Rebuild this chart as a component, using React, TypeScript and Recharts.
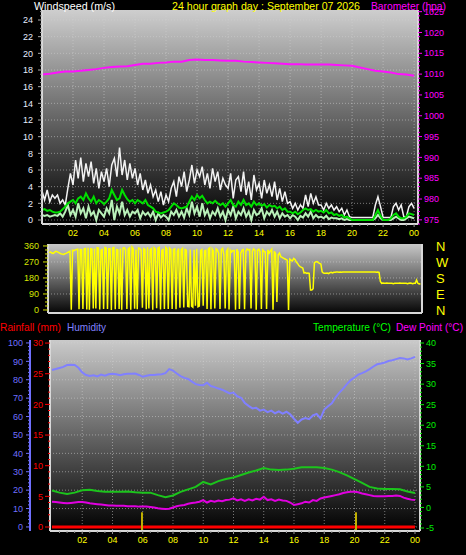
import React from 'react'
import { LineChart, Line, XAxis, YAxis, CartesianGrid } from 'recharts'

const FONT = '"Liberation Sans", Arial, Helvetica, sans-serif'

// wind, one reading every 10 minutes (m/s)
const windGust = [
  3.5, 2.4, 3.6, 2.2, 3.0, 2.6,
  3.0, 2.0, 2.4, 1.8, 3.8, 5.6,
  4.2, 7.2, 5.0, 7.5, 4.6, 6.8,
  5.2, 7.0, 4.4, 6.2, 3.8, 5.8,
  4.6, 6.2, 4.0, 6.6, 7.4, 5.2,
  8.7, 5.4, 7.2, 4.8, 6.8, 5.0,
  6.2, 4.2, 5.6, 3.6, 4.8, 3.2,
  4.2, 2.8, 3.6, 2.2, 3.4, 1.8,
  3.0, 2.2, 3.8, 4.6, 2.8, 5.2,
  4.0, 5.8, 3.4, 4.8, 6.6, 4.4,
  6.0, 5.2, 6.4, 4.2, 5.6, 3.8,
  6.2, 4.6, 5.8, 3.6, 5.0, 4.2,
  3.8, 5.6, 2.6, 4.8, 5.2, 3.4,
  5.8, 3.0, 4.6, 2.4, 5.4, 3.6,
  4.4, 2.6, 4.8, 3.2, 4.2, 2.8,
  4.6, 2.4, 3.8, 2.2, 3.4, 2.0,
  2.2, 1.4, 2.0, 1.2, 1.8, 1.4,
  3.0, 1.6, 3.2, 2.0, 2.8, 1.8,
  1.8, 1.2, 2.0, 1.4, 1.8, 1.2,
  1.6, 1.0, 1.4, 0.6, 1.2, 0.4,
  0.3, 0.3, 0.3, 0.3, 0.3, 0.3,
  0.3, 0.3, 0.3, 1.8, 2.8, 1.6,
  0.3, 0.3, 0.3, 0.3, 1.6, 2.0,
  1.2, 1.8, 0.4, 0.4, 1.6, 2.0,
  1.4,
]
const windAvg = [
  1.2, 1.3, 1.1, 1.2, 1.0, 0.9,
  0.9, 1.0, 1.3, 1.6, 2.0, 2.2,
  2.4, 2.0, 2.6, 2.8, 2.4, 3.2,
  2.6, 2.2, 2.8, 2.0, 2.4, 2.2,
  1.9, 2.2, 2.6, 3.6, 3.0, 2.4,
  2.6, 3.6, 3.0, 2.5, 2.2, 2.4,
  2.0, 2.4, 2.2, 2.0, 2.4, 1.8,
  1.6, 1.4, 1.0, 0.9, 0.8, 0.9,
  1.0, 1.2, 1.6, 2.0, 1.8, 1.5,
  1.4, 1.5, 1.6, 2.2, 2.8, 2.4,
  3.0, 2.6, 2.9, 2.4, 2.0, 2.2,
  2.0, 2.3, 2.0, 1.8, 2.0, 1.6,
  2.0, 2.4, 1.8, 1.6, 2.2, 1.8,
  2.4, 1.8, 2.0, 1.6, 2.2, 1.8,
  2.0, 1.7, 1.9, 1.5, 1.8, 1.6,
  1.7, 1.4, 1.6, 1.2, 1.4, 1.0,
  1.0, 0.8, 1.0, 0.7, 0.9, 1.2,
  1.4, 1.2, 1.3, 1.0, 1.2, 1.0,
  1.1, 0.9, 1.2, 0.8, 0.9, 0.6,
  0.7, 0.5, 0.6, 0.3, 0.4, 0.2,
  0, 0, 0, 0, 0, 0,
  0, 0, 0, 0.6, 1.2, 0.5,
  0, 0, 0, 0.2, 0.6, 0.8,
  0.4, 0.2, 0.2, 0.4, 0.8, 0.7,
  0.6,
]
const windSpeed = [
  0.6, 0.5, 0.6, 0.4, 0.5, 0.6,
  0.5, 0.8, 0.4, 1.0, 1.8, 0.6,
  1.2, 0.4, 2.0, 0.8, 1.4, 0.2,
  1.6, 0.6, 1.0, 0.0, 1.2, 0.8,
  0.4, 1.4, 0.8, 2.4, 0.0, 1.6,
  0.8, 2.2, 0.6, 1.2, 0.4, 1.0,
  0.8, 1.2, 0.2, 1.0, 0.6, 0.9,
  0.4, 1.0, 0.0, 0.8, 0.3, 0.6,
  0.4, 0.0, 1.0, 0.6, 1.2, 0.4,
  1.0, 0.3, 1.4, 0.6, 2.2, 0.8,
  1.6, 0.4, 2.0, 0.6, 1.2, 0.2,
  1.0, 0.6, 1.4, 0.4, 1.0, 0.0,
  1.2, 0.6, 1.6, 0.2, 1.0, 0.6,
  1.4, 0.4, 1.0, 0.0, 1.2, 0.6,
  0.8, 1.4, 0.2, 1.0, 0.6, 1.2,
  0.4, 1.0, 0.2, 0.8, 0.4, 0.6,
  0.2, 0.6, 0.4, 0.0, 0.5, 0.3,
  0.8, 0.4, 1.0, 0.2, 0.6, 0.3,
  0.4, 0.2, 0.5, 0.1, 0.3, 0.2,
  0.2, 0.1, 0.2, 0.0, 0.1, 0.0,
  0, 0, 0, 0, 0, 0,
  0, 0, 0, 0.2, 0.6, 0.2,
  0, 0, 0, 0, 0.2, 0.4,
  0.2, 0, 0, 0.2, 0.4, 0.3,
  0.2,
]
// barometer every 30 minutes (hpa)
const barometer = [
  1009.9, 1010.1, 1010.4, 1010.6, 1010.6, 1010.8, 1011.0, 1011.2,
  1011.5, 1011.7, 1011.8, 1011.9, 1012.2, 1012.5, 1012.5, 1012.7,
  1012.8, 1013.0, 1013.0, 1013.4, 1013.5, 1013.4, 1013.4, 1013.3,
  1013.2, 1013.2, 1013.0, 1012.9, 1012.8, 1012.7, 1012.6, 1012.5,
  1012.4, 1012.4, 1012.3, 1012.3, 1012.3, 1012.3, 1012.2, 1012.1,
  1012.0, 1011.6, 1011.2, 1010.8, 1010.6, 1010.4, 1010.0, 1009.9,
  1009.6,
]
// wind direction every 5 minutes (degrees)
const windDir = [
  322, 324, 326, 320, 318, 324, 330, 328, 324, 320, 316, 314,
  312, 316, 318, 322, 326, 330, 2, 336, 334, 338, 340, 342,
  4, 340, 338, 6, 344, 346, 3, 350, 2, 344, 342, 8,
  346, 8, 350, 348, 3, 336, 340, 5, 352, 348, 6, 344,
  344, 0, 350, 352, 4, 340, 338, 5, 346, 2, 348, 350,
  338, 6, 344, 350, 2, 354, 344, 7, 340, 4, 348, 346,
  336, 12, 345, 340, 4, 352, 8, 340, 346, 2, 350, 342,
  10, 348, 352, 3, 335, 340, 6, 352, 344, 5, 348, 340,
  6, 340, 344, 4, 330, 346, 12, 338, 346, 14, 340, 336,
  20, 18, 340, 22, 16, 338, 24, 344, 18, 22, 334, 340,
  24, 332, 336, 6, 344, 350, 4, 342, 330, 8, 344, 338,
  320, 5, 338, 346, 312, 8, 330, 342, 3, 336, 326, 334,
  334, 2, 342, 326, 6, 318, 336, 340, 4, 330, 344, 338,
  340, 8, 330, 344, 336, 2, 336, 342, 328, 6, 338, 330,
  326, 6, 338, 320, 332, 342, 2, 330, 316, 45, 310, 320,
  300, 296, 292, 288, 284, 280, 0, 286, 280, 276, 290, 284,
  270, 262, 250, 244, 240, 236, 208, 210, 206, 208, 206, 112,
  112, 120, 266, 270, 272, 266, 262, 258, 214, 208, 206, 206,
  208, 204, 210, 212, 208, 212, 212, 214, 214, 212, 214, 212,
  214, 214, 214, 214, 214, 214, 214, 214, 214, 214, 214, 214,
  214, 214, 214, 214, 214, 214, 214, 214, 214, 214, 214, 214,
  214, 214, 212, 214, 212, 160, 150, 152, 150, 150, 152, 150,
  150, 150, 150, 148, 150, 150, 150, 150, 152, 150, 150, 150,
  150, 150, 148, 150, 152, 150, 148, 150, 150, 168, 150, 146,
  148,
]
// humidity every 15 minutes (%)
const humidity = [
  85.3, 85.8, 86.4, 87.0, 88.0, 88.2, 88.0, 86.5,
  84.0, 82.6, 82.0, 82.4, 81.8, 82.8, 82.2, 83.0,
  83.2, 83.0, 82.4, 83.0, 83.2, 83.2, 83.4, 82.6,
  81.6, 82.2, 82.6, 82.6, 82.8, 83.0, 83.6, 85.8,
  85.0, 83.4, 82.0, 81.0, 80.4, 79.0, 77.6, 77.2,
  77.0, 78.4, 76.6, 76.0, 75.2, 74.6, 73.6, 72.6,
  73.0, 71.0, 70.2, 67.4, 65.8, 64.4, 64.8, 63.2,
  63.8, 62.4, 63.2, 61.8, 62.8, 61.6, 62.6, 61.2,
  58.8, 56.6, 58.4, 59.2, 58.6, 60.6, 61.4, 59.0,
  63.8, 65.6, 67.2, 70.4, 73.0, 75.2, 77.6, 79.8,
  81.2, 82.8, 83.6, 84.6, 85.8, 87.2, 88.4, 88.8,
  89.4, 90.2, 90.6, 91.2, 91.8, 91.6, 91.0, 91.6,
  92.4,
]
// dew point every 15 minutes (C)
const dewPoint = [
  1.4, 1.3, 1.2, 1.1, 1.0, 1.1, 1.2, 1.3,
  1.3, 1.2, 1.0, 0.9, 0.8, 0.7, 0.6, 0.5,
  0.5, 0.4, 0.4, 0.4, 0.3, 0.3, 0.3, 0.2,
  0.2, 0.2, 0.1, 0.0, -0.2, -0.3, -0.4, -0.3,
  0.0, 0.3, 0.5, 0.6, 0.9, 1.1, 1.2, 1.4,
  1.8, 1.2, 1.6, 1.4, 1.7, 1.5, 1.8, 1.9,
  2.2, 1.7, 2.0, 1.6, 2.0, 1.7, 2.1, 1.9,
  2.6, 1.8, 2.0, 1.6, 1.9, 1.7, 1.6, 1.2,
  0.6, 0.8, 1.0, 1.4, 1.2, 1.8, 1.6, 2.2,
  2.4, 2.6, 2.8, 3.0, 3.2, 3.5, 3.7, 3.8,
  3.8, 3.7, 3.4, 3.2, 3.0, 2.8, 2.7, 2.7,
  2.7, 2.8, 2.8, 2.9, 2.8, 2.4, 2.1, 1.9,
  1.8,
]
// temperature every 30 minutes (C)
const temperature = [
  4.1, 3.6, 3.3, 3.6, 4.2, 4.3, 4.0, 3.8,
  3.8, 3.8, 3.9, 3.7, 3.6, 3.6, 3.0, 2.5,
  2.9, 3.8, 4.4, 5.0, 6.2, 5.6, 6.4, 6.9,
  7.3, 7.9, 8.5, 9.0, 9.6, 9.2, 9.1, 9.2,
  9.4, 9.8, 9.8, 9.8, 9.6, 9.2, 8.6, 7.8,
  6.9, 6.0, 5.0, 4.6, 4.5, 4.5, 4.4, 3.9,
  3.5,
]
// rainfall hourly (mm)
const rainfall = [0, 0, 0, 0, 0, 0, 0, 0, 0, 0, 0, 0, 0, 0, 0, 0, 0, 0, 0, 0, 0, 0, 0, 0, 0]
const rainMarkHours = [5.95, 20.1]
const rainMarkTop = [2.4, 2.4]

const hourLabels = [2, 4, 6, 8, 10, 12, 14, 16, 18, 20, 22, 24]
const compass: Record<number, string> = { 0: 'N', 90: 'E', 180: 'S', 270: 'W', 360: 'N' }

const steps = (from: number, to: number, step: number) => {
  const out: number[] = []
  const n = Math.round((to - from) / step)
  for (let i = 0; i <= n; i++) out.push(Math.round((from + i * step) * 1000) / 1000)
  return out
}

const WIND_DOMAIN = [-0.48, 25.2]
const BARO_DOMAIN = [974, 1025.4]
const DIR_DOMAIN = [-17, 371]
const HUM_DOMAIN = [-2.2, 101.6]
const RAIN_DOMAIN = [-0.65, 30.5]
const TEMP_DOMAIN = [-5.73, 40.73]

const windRows = windGust.map((g, i) => ({ h: i / 6, gust: g, avg: windAvg[i], speed: windSpeed[i] }))
const baroRows = barometer.map((p, i) => ({ h: i / 2, p }))
const dirRows = windDir.map((d, i) => ({ h: i / 12, d }))
const humRows = humidity.map((v, i) => ({ h: i / 4, v }))
const dewRows = dewPoint.map((v, i) => ({ h: i / 4, v }))
const tempRows = temperature.map((v, i) => ({ h: i / 2, v }))
const rainRows = rainfall.map((v, i) => ({ h: i, v }))
const rainMarks = rainMarkHours.map((h, i) => [{ h, v: RAIN_DOMAIN[0] }, { h, v: rainMarkTop[i] }])

type TickStyle = {
  side: 'left' | 'right' | 'bottom'
  major: number
  color: string
  tickColor?: string
  len?: number
  minorLen?: number
  gap?: number
  size?: number
  fmt?: (v: number) => string
}

// draws major ticks with a label and minor ticks as short dashes
function axisTick(s: TickStyle) {
  return (props: any) => {
    const { x, y, payload } = props
    const v = Number(payload.value)
    const r = v / s.major
    const isMajor = Math.abs(r - Math.round(r)) < 1e-6
    const len = isMajor ? s.len ?? 4 : s.minorLen ?? 2
    const gap = s.gap ?? 3
    const label = isMajor ? (s.fmt ? s.fmt(v) : String(v)) : ''
    const tc = s.tickColor ?? s.color
    const txt = { fill: s.color, fontSize: s.size ?? 9, fontFamily: FONT }
    if (s.side === 'bottom') {
      return (
        <g>
          {len > 0 && <line x1={x} x2={x} y1={y} y2={y + len} stroke={tc} />}
          {label && (
            <text x={x} y={y + len + gap} dy="0.71em" textAnchor="middle" {...txt}>
              {label}
            </text>
          )}
        </g>
      )
    }
    const dir = s.side === 'left' ? -1 : 1
    return (
      <g>
        {len > 0 && <line x1={x} x2={x + dir * len} y1={y} y2={y} stroke={tc} />}
        {label && (
          <text x={x + dir * (len + gap)} y={y} dy="0.355em" textAnchor={s.side === 'left' ? 'end' : 'start'} {...txt}>
            {label}
          </text>
        )}
      </g>
    )
  }
}

const hourFmt = (v: number) => String(v % 24).padStart(2, '0')
const border = { stroke: '#d8d8d8', strokeWidth: 2 }
const noTick = { tickSize: 0, tickMargin: 0, tickLine: false, interval: 0 as const, allowDataOverflow: true }
const grid = { stroke: '#d0d0d0', strokeOpacity: 0.55, strokeDasharray: '1 2' }

function WindPanel() {
  return (
    <LineChart width={466} height={242} data={windRows} margin={{ top: 10, right: 0, bottom: 0, left: 0 }}>
      <defs>
        <linearGradient id="bgWind" x1="0" y1="0" x2="0" y2="1">
          <stop offset="0" stopColor="#cecece" />
          <stop offset="1" stopColor="#000000" />
        </linearGradient>
      </defs>
      <CartesianGrid fill="url(#bgWind)" fillOpacity={1} {...grid} horizontalValues={steps(0, 24, 2)} verticalValues={hourLabels} />
      <XAxis
        dataKey="h"
        type="number"
        domain={[0, 24.25]}
        ticks={steps(0.5, 24, 0.5)}
        height={18}
        axisLine={border}
        tick={axisTick({ side: 'bottom', major: 2, color: '#ffff00', tickColor: '#9a9a9a', len: 3, minorLen: 2, gap: 3, fmt: hourFmt })}
        {...noTick}
      />
      <YAxis
        type="number"
        domain={WIND_DOMAIN}
        ticks={steps(0, 25, 0.5)}
        width={42}
        axisLine={border}
        tick={axisTick({ side: 'left', major: 2, color: '#e6ecff', tickColor: '#a8a8a8', len: 4, minorLen: 2, gap: 5 })}
        {...noTick}
      />
      <YAxis
        yAxisId="b"
        orientation="right"
        type="number"
        domain={BARO_DOMAIN}
        ticks={steps(974, 1025, 1)}
        width={48}
        axisLine={border}
        tick={axisTick({ side: 'right', major: 5, color: '#ff00ff', len: 4, minorLen: 2, gap: 2 })}
        {...noTick}
      />
      <Line dataKey="gust" stroke="#f2f2f2" strokeWidth={1.5} dot={false} isAnimationActive={false} />
      <Line dataKey="speed" stroke="#b8f0b8" strokeWidth={2} dot={false} isAnimationActive={false} />
      <Line dataKey="avg" stroke="#00e000" strokeWidth={2} dot={false} isAnimationActive={false} />
      <Line yAxisId="b" data={baroRows} dataKey="p" stroke="#ff10ff" strokeWidth={2} dot={false} isAnimationActive={false} />
    </LineChart>
  )
}

function DirectionPanel() {
  return (
    <LineChart width={466} height={81} data={dirRows} margin={{ top: 4, right: 0, bottom: 6, left: 0 }}>
      <defs>
        <linearGradient id="bgDir" x1="0" y1="0" x2="0" y2="1">
          <stop offset="0" stopColor="#c8c8c8" />
          <stop offset="1" stopColor="#060606" />
        </linearGradient>
      </defs>
      <CartesianGrid fill="url(#bgDir)" fillOpacity={1} {...grid} vertical={false} horizontalValues={[90, 180, 270]} />
      <XAxis dataKey="h" type="number" domain={[0, 24.1]} height={2} tick={false} axisLine={border} {...noTick} />
      <YAxis
        type="number"
        domain={DIR_DOMAIN}
        ticks={steps(0, 360, 22.5)}
        width={48}
        axisLine={border}
        tick={axisTick({ side: 'left', major: 90, color: '#d6e400', len: 5, minorLen: 3, gap: 4 })}
        {...noTick}
      />
      <YAxis
        yAxisId="l"
        orientation="right"
        type="number"
        domain={DIR_DOMAIN}
        ticks={[0, 90, 180, 270, 360]}
        width={44}
        axisLine={border}
        tick={axisTick({ side: 'right', major: 90, color: '#ffff00', len: 0, gap: 14, size: 13, fmt: (v) => compass[v] })}
        {...noTick}
      />
      <Line dataKey="d" stroke="#ffff00" strokeWidth={1.5} dot={false} isAnimationActive={false} />
    </LineChart>
  )
}

function ClimatePanel() {
  return (
    <LineChart width={466} height={237} margin={{ top: 22, right: 0, bottom: 0, left: 0 }}>
      <defs>
        <linearGradient id="bgClimate" x1="0" y1="0" x2="0" y2="1">
          <stop offset="0" stopColor="#cacaca" />
          <stop offset="1" stopColor="#000000" />
        </linearGradient>
      </defs>
      <CartesianGrid yAxisId="h" fill="url(#bgClimate)" fillOpacity={1} {...grid} horizontalValues={steps(0, 100, 10)} verticalValues={hourLabels} />
      <XAxis
        dataKey="h"
        type="number"
        domain={[-0.13, 24.33]}
        ticks={steps(0.5, 24, 0.5)}
        height={24}
        axisLine={border}
        tick={axisTick({ side: 'bottom', major: 2, color: '#ffff00', tickColor: '#9a9a9a', len: 3, minorLen: 2, gap: 3, fmt: hourFmt })}
        {...noTick}
      />
      <YAxis
        type="number"
        domain={RAIN_DOMAIN}
        ticks={steps(0, 30, 1)}
        width={20}
        axisLine={border}
        tick={axisTick({ side: 'left', major: 5, color: '#ff0000', len: 5, minorLen: 2, gap: 2 })}
        {...noTick}
      />
      <YAxis
        yAxisId="h"
        type="number"
        domain={HUM_DOMAIN}
        ticks={steps(0, 100, 2)}
        width={30}
        axisLine={{ stroke: '#7070ff', strokeWidth: 2 }}
        tick={axisTick({ side: 'left', major: 10, color: '#7070ff', len: 4, minorLen: 2, gap: 3 })}
        {...noTick}
      />
      <YAxis
        yAxisId="t"
        orientation="right"
        type="number"
        domain={TEMP_DOMAIN}
        ticks={steps(-5, 40, 1)}
        width={46}
        axisLine={border}
        tick={axisTick({ side: 'right', major: 5, color: '#00ee00', len: 4, minorLen: 2, gap: 2 })}
        {...noTick}
      />
      <Line yAxisId="h" data={humRows} dataKey="v" stroke="#8080ff" strokeWidth={2} dot={false} isAnimationActive={false} />
      <Line yAxisId="t" data={tempRows} dataKey="v" stroke="#1cc41c" strokeWidth={2} dot={false} isAnimationActive={false} />
      <Line yAxisId="t" data={dewRows} dataKey="v" stroke="#e000e0" strokeWidth={2} dot={false} isAnimationActive={false} />
      <Line data={rainRows} dataKey="v" stroke="#ff0000" strokeWidth={3} dot={false} isAnimationActive={false} />
      {rainMarks.map((m, i) => (
        <Line key={i} data={m} dataKey="v" stroke="#c0b000" strokeWidth={2} dot={false} isAnimationActive={false} />
      ))}
    </LineChart>
  )
}

export default function App() {
  const t = { fontFamily: FONT, fontSize: 11, lengthAdjust: 'spacingAndGlyphs' as const }
  return (
    <div style={{ position: 'fixed', left: 0, top: 0, width: 466, height: 555, background: '#000', overflow: 'hidden' }}>
      <div style={{ position: 'absolute', left: 0, top: 0 }}>
        <WindPanel />
      </div>
      <div style={{ position: 'absolute', left: 0, top: 240 }}>
        <DirectionPanel />
      </div>
      <div style={{ position: 'absolute', left: 0, top: 318 }}>
        <ClimatePanel />
      </div>
      <svg width={466} height={555} style={{ position: 'absolute', left: 0, top: 0, pointerEvents: 'none' }}>
        <text x={34} y={10} fill="#ffffff" textLength={81} {...t}>Windspeed (m/s)</text>
        <text x={172} y={10} fill="#ffff00" textLength={188} {...t}>24 hour graph day : September 07 2026</text>
        <text x={371} y={10} fill="#ff00ff" textLength={75} {...t}>Barometer (hpa)</text>
        <text x={0} y={331} fill="#ff0000" textLength={61} {...t}>Rainfall (mm)</text>
        <text x={67} y={331} fill="#8080ff" textLength={39} {...t}>Humidity</text>
        <text x={313} y={331} fill="#00ff00" textLength={78} {...t}>Temperature (°C)</text>
        <text x={396} y={331} fill="#ff00ff" textLength={67} {...t}>Dew Point (°C)</text>
      </svg>
    </div>
  )
}
